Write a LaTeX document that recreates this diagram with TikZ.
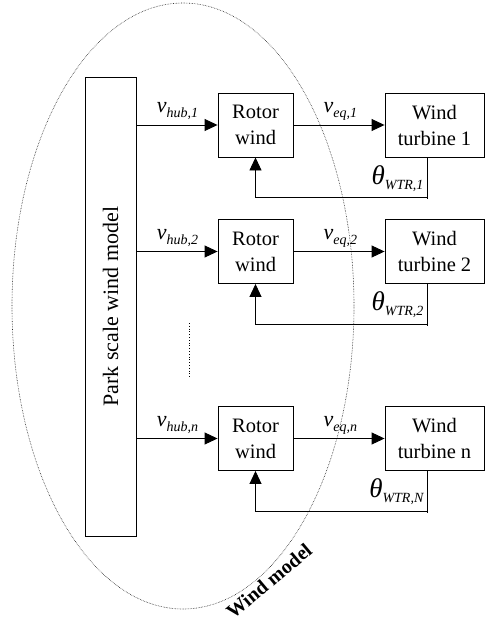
\documentclass[tikz,border=0pt]{standalone}
\usepackage{fontspec}
\setmainfont{Liberation Serif}
\usetikzlibrary{arrows.meta,shapes.geometric,calc}
\newcommand\vsub[1]{{\fontsize{22}{24}\selectfont\itshape v}\raisebox{-4.5pt}{\fontsize{14}{14}\selectfont\itshape #1}}
\newcommand\thsub[1]{{\fontsize{27}{28}\selectfont\itshape θ}\raisebox{-5pt}{\fontsize{14}{14}\selectfont\itshape #1}}
\begin{document}
\begin{tikzpicture}[x=1pt,y=-1pt,
  blk/.style={draw, line width=0.9pt, minimum height=64pt, inner sep=0pt, align=center, font=\fontsize{20.5}{26}\selectfont},
  rot/.style={blk, minimum width=75pt},
  wt/.style={blk, minimum width=99pt},
  arr/.style={line width=0.9pt, -{Triangle[length=13pt,width=12pt]}},
  ln/.style={line width=0.9pt}]
\useasboundingbox (0,0) rectangle (485,623);
\node[ellipse, draw=black!85, line width=0.6pt, dash pattern=on 0.6pt off 1pt, minimum width=342pt, minimum height=606pt, inner sep=0pt] (wm) at (183,306) {};
\node[draw, line width=0.9pt, minimum width=51pt, minimum height=459pt, inner sep=0pt] (park) at (110.5,306.5) {};
\node[rotate=90, font=\fontsize{22}{24}\selectfont] (parkt) at (park.center) {Park scale wind model};
\foreach \i/\y/\s/\S/\m in {1/125/1/1/1, 2/251.5/2/2/2, 3/438.5/n/N/n}{
  \node[rot] (r\i) at (255.5,\y) {Rotor\\wind};
  \node[wt] (w\i) at (434.5,\y) {Wind\\turbine \m};
  \draw[arr] (park.east |- r\i.west) -- (r\i.west);
  \draw[arr] (r\i.east) -- (w\i.west);
  \coordinate (c\i) at ($(w\i.south west)+(43,40)$);
  \draw[ln] ($(w\i.south west)+(43,0)$) -- ($(c\i)+(0,2)$);
  \draw[arr] (c\i) -| (r\i.south);
  \node[anchor=base west, inner sep=0pt] (vh\i) at ($(r\i.west)+(-61,-12)$) {\vsub{hub,\s}};
  \node[anchor=base west, inner sep=0pt] (ve\i) at ($(r\i.east)+(30,-12)$) {\vsub{eq,\s}};
  \node[anchor=base east, inner sep=0pt] (th\i) at ($(c\i)+(-4,-13)$) {\thsub{WTR,\S}};
}
\coordinate (d1) at (189,323);
\coordinate (d2) at (189,378);
\draw[dotted, line width=0.8pt] (d1) -- (d2);
\node[rotate=40, fill=white, inner sep=0.5pt, font=\fontsize{20}{22}\selectfont\bfseries] (wmt) at (269,581) {Wind model};
\end{tikzpicture}
\end{document}
